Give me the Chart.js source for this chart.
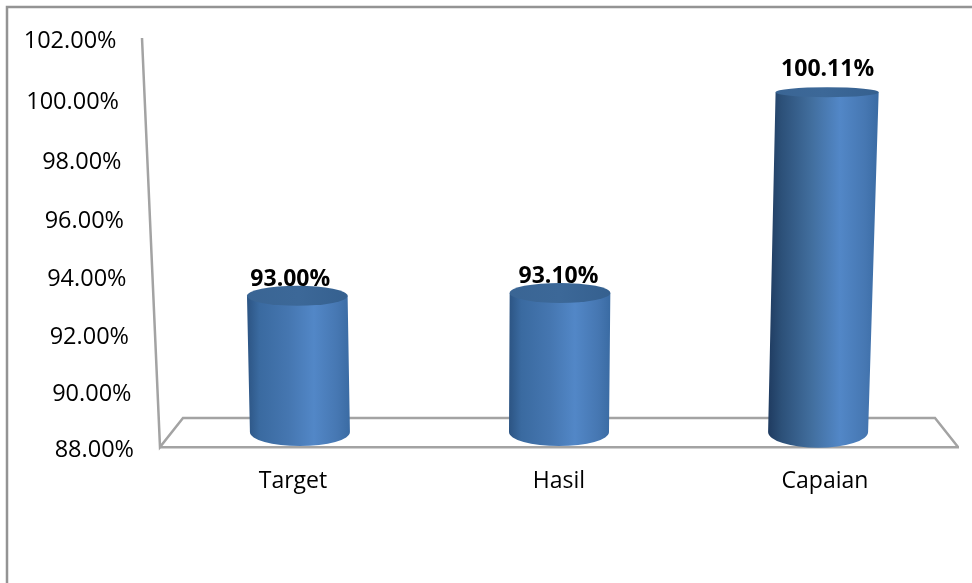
<!DOCTYPE html>
<html>
<head>
<meta charset="utf-8">
<style>
  html, body { margin: 0; padding: 0; background: #fff; }
  #wrap { width: 972px; height: 583px; position: relative; }
</style>
<script src="https://cdn.jsdelivr.net/npm/chart.js@4"></script>
</head>
<body>
<div id="wrap"><canvas id="chart" width="972" height="583"></canvas></div>
<script>
const categories = ['Target', 'Hasil', 'Capaian'];
const values = [93.00, 93.10, 100.11];
const yMin = 88;
const yMax = 102;
const yStep = 2;

const gridGray = '#a3a3a3';
const fontName = '"Open Sans", sans-serif';

const pct = (v) => Number(v).toFixed(2) + '%';

// frame, slanted axis and floor go under the bars
const wallPlugin = {
  id: 'wall',
  beforeDatasetsDraw(chart) {
    const ctx = chart.ctx;
    const y = chart.scales.y;
    const front = chart.chartArea.bottom;
    const back = front - 29;
    ctx.save();
    ctx.strokeStyle = '#949494';
    ctx.lineWidth = 2.5;
    ctx.beginPath();
    ctx.moveTo(7, 583);
    ctx.lineTo(7, 7);
    ctx.lineTo(972, 7);
    ctx.stroke();

    ctx.strokeStyle = gridGray;
    ctx.beginPath();
    ctx.moveTo(142, y.getPixelForValue(yMax));
    ctx.lineTo(chart.chartArea.left, front);
    ctx.lineTo(183, back);
    ctx.lineTo(935, back);
    ctx.lineTo(chart.chartArea.right, front);
    ctx.stroke();

    // y tick labels follow the slant of the axis, spacing is a bit uneven from the perspective
    ctx.fillStyle = '#000';
    ctx.font = '23.5px ' + fontName;
    ctx.textAlign = 'right';
    ctx.textBaseline = 'middle';
    y.ticks.forEach((t) => {
      const f = (t.value - yMin) / (yMax - yMin);
      ctx.fillText(pct(t.value), 134 - (t.value - yMin) * 1.25, y.getPixelForValue(t.value) + 3 + 20 * f * (1 - f));
    });
    ctx.restore();
  },
};

// the bars are drawn as cylinders from the bar elements' own positions
const cylinderPlugin = {
  id: 'cylinder',
  afterDatasetsDraw(chart) {
    const ctx = chart.ctx;
    const meta = chart.getDatasetMeta(0);
    const floorY = chart.chartArea.bottom - 15;
    const midX = (chart.chartArea.left + chart.chartArea.right) / 2;
    const labelShift = [-7, -1.5, 0.5];

    meta.data.forEach((bar, i) => {
      const topY = bar.y - (bar.y - 93) * 0.02 - 1;
      const h = floorY - topY;
      const baseX = midX + (bar.x - midX) * 0.974;
      const topX = baseX + (bar.x - midX) * h * 1e-4 + (h < 200 ? 1 : 0);
      const baseR = bar.width / 2;
      const topR = baseR + h * 0.006 - 0.5;
      const baseRy = 13 + h * 0.008;
      const topRy = 5 + (topY - 92) * 0.025;

      const left = Math.min(baseX - baseR, topX - topR);
      const right = Math.max(baseX + baseR, topX + topR);
      const side = ctx.createLinearGradient(left, 0, right, 0);
      // the tall bar has a much darker left edge in the reference
      side.addColorStop(0, h > 200 ? '#1f3b60' : '#2c5483');
      side.addColorStop(0.12, h > 200 ? '#2c5078' : '#3a6aa0');
      side.addColorStop(0.4, h > 200 ? '#426f9f' : '#4576b0');
      side.addColorStop(0.65, '#5287c7');
      side.addColorStop(0.88, '#4677b2');
      side.addColorStop(1, '#3a6ba3');

      ctx.save();
      ctx.fillStyle = side;
      ctx.beginPath();
      ctx.moveTo(topX - topR, topY);
      ctx.lineTo(baseX - baseR, floorY);
      ctx.ellipse(baseX, floorY, baseR, baseRy, 0, Math.PI, 0, true);
      ctx.lineTo(topX + topR, topY);
      ctx.closePath();
      ctx.fill();

      const lid = ctx.createLinearGradient(left, 0, right, 0);
      lid.addColorStop(0, '#3a6594');
      lid.addColorStop(0.5, '#3c6898');
      lid.addColorStop(1, '#35608f');
      ctx.fillStyle = lid;
      ctx.beginPath();
      ctx.ellipse(topX, topY, topR, topRy, 0, 0, Math.PI * 2);
      ctx.fill();

      ctx.fillStyle = '#000';
      ctx.font = 'bold 23px ' + fontName;
      ctx.textAlign = 'center';
      ctx.textBaseline = 'middle';
      ctx.fillText(pct(values[i]), topX + labelShift[i], topY - 16 - (296 - topY) * 0.034);
      ctx.restore();
    });
  },
};

new Chart(document.getElementById('chart'), {
  type: 'bar',
  data: {
    labels: categories,
    datasets: [{
      data: values,
      backgroundColor: 'rgba(0,0,0,0)',
      barThickness: 100,
    }],
  },
  options: {
    responsive: false,
    animation: false,
    layout: { padding: { left: 152, right: 14, top: 38, bottom: 0 } },
    plugins: { legend: { display: false }, tooltip: { enabled: false } },
    scales: {
      x: {
        grid: { display: false },
        border: { color: gridGray, width: 2.5 },
        ticks: { color: '#000', font: { family: fontName, size: 23 }, padding: 13 },
        afterFit(scale) { scale.height = 136; },
      },
      y: {
        min: yMin,
        max: yMax,
        grid: { display: false },
        border: { display: false },
        ticks: { display: false, stepSize: yStep },
      },
    },
  },
  plugins: [wallPlugin, cylinderPlugin],
});
</script>
</body>
</html>
